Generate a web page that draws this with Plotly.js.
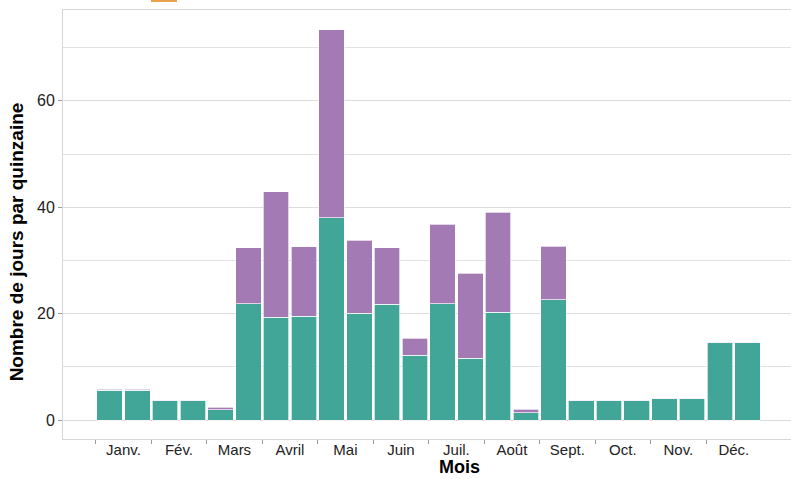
<!DOCTYPE html>
<html>
<head>
<meta charset="utf-8">
<script src="https://cdn.plot.ly/plotly-3.0.1.min.js"></script>
<style>
html,body{margin:0;padding:0;overflow:hidden;background:#fff;}
#chart{width:791px;height:479px;}
</style>
</head>
<body>
<div id="chart"></div>
<script>
// Month labels (two fortnights per month)
var months = ['Janv.', 'Fév.', 'Mars', 'Avril', 'Mai', 'Juin', 'Juil.', 'Août', 'Sept.', 'Oct.', 'Nov.', 'Déc.'];
// Fortnight index 1..24
var quinzaines = [1,2,3,4,5,6,7,8,9,10,11,12,13,14,15,16,17,18,19,20,21,22,23,24];
// Lower (teal) series: days per fortnight
var serieA = [5.6,5.6,3.6,3.6,1.9,21.9,19.3,19.5,38.0,20.1,21.8,12.2,21.9,11.6,20.3,1.4,22.6,3.6,3.6,3.6,4.0,4.0,14.5,14.5];
// Upper (purple) series: days per fortnight
var serieB = [0.2,0.2,0.15,0.15,0.5,10.5,23.6,13.1,35.4,13.7,10.6,3.2,14.9,16.0,18.8,0.6,10.1,0.1,0.1,0.1,0.1,0.1,0.15,0.15];

var monthCenters = months.map(function(m, i){ return 2*i + 1.5; });
var monthStarts = months.map(function(m, i){ return 2*i + 0.5; });

var barLine = {color: 'rgba(255,255,255,0.85)', width: 0.8};

var traces = [
  {type: 'bar', x: quinzaines, y: serieA, name: 'Série A',
   marker: {color: '#41a597', line: barLine}, hoverinfo: 'x+y'},
  {type: 'bar', x: quinzaines, y: serieB, name: 'Série B',
   marker: {color: '#a37ab3', line: barLine}, hoverinfo: 'x+y'}
];

var layout = {
  width: 791, height: 479,
  barmode: 'stack',
  bargap: 0.08,
  showlegend: false,
  paper_bgcolor: '#ffffff',
  plot_bgcolor: '#ffffff',
  font: {family: '"Liberation Sans", Arial, sans-serif', size: 15, color: '#222222'},
  margin: {l: 63, r: 0, t: 10, b: 40},
  xaxis: {
    range: [-0.68, 25.56],
    tickmode: 'array',
    tickvals: monthCenters,
    ticktext: months,
    ticks: '',
    ticklabelstandoff: -3,
    showgrid: false,
    zeroline: false,
    showline: true,
    mirror: true,
    linecolor: '#d6d6d6',
    linewidth: 1,
    tickfont: {size: 15, color: '#222222'},
    minor: {
      tickmode: 'array',
      tickvals: monthStarts,
      ticks: 'outside',
      ticklen: 4,
      tickcolor: '#9a9a9a',
      tickwidth: 1,
      showgrid: false
    }
  },
  yaxis: {
    range: [-3.57, 77.07],
    tickmode: 'linear',
    tick0: 0,
    dtick: 20,
    ticks: 'outside',
    ticklen: 4,
    tickcolor: '#9a9a9a',
    showgrid: true,
    gridcolor: '#dcdcdc',
    gridwidth: 1,
    zeroline: false,
    showline: true,
    linecolor: '#d6d6d6',
    linewidth: 1,
    tickfont: {size: 16, color: '#222222'},
    minor: {
      tickmode: 'linear',
      tick0: 10,
      dtick: 20,
      showgrid: true,
      gridcolor: '#e2e2e2',
      gridwidth: 1,
      ticks: ''
    }
  },
  annotations: [
    {text: 'Nombre de jours par quinzaine', xref: 'paper', yref: 'paper',
     x: -0.0636, y: 0.46, xanchor: 'center', yanchor: 'middle', textangle: -90,
     showarrow: false, font: {size: 19, color: '#000000', weight: 'bold'}},
    {text: 'Mois', xref: 'paper', yref: 'paper',
     x: 0.544, y: -0.0932, xanchor: 'center', yanchor: 'bottom',
     showarrow: false, font: {size: 18, color: '#000000', weight: 'bold'}}
  ],
  shapes: [
    {type: 'rect', xref: 'paper', yref: 'paper', x0: 0.1209, x1: 0.1566, y0: 1.0186, y1: 1.06,
     fillcolor: '#e9a24d', line: {width: 0}}
  ]
};

Plotly.newPlot('chart', traces, layout, {displayModeBar: false, staticPlot: true});
</script>
</body>
</html>
